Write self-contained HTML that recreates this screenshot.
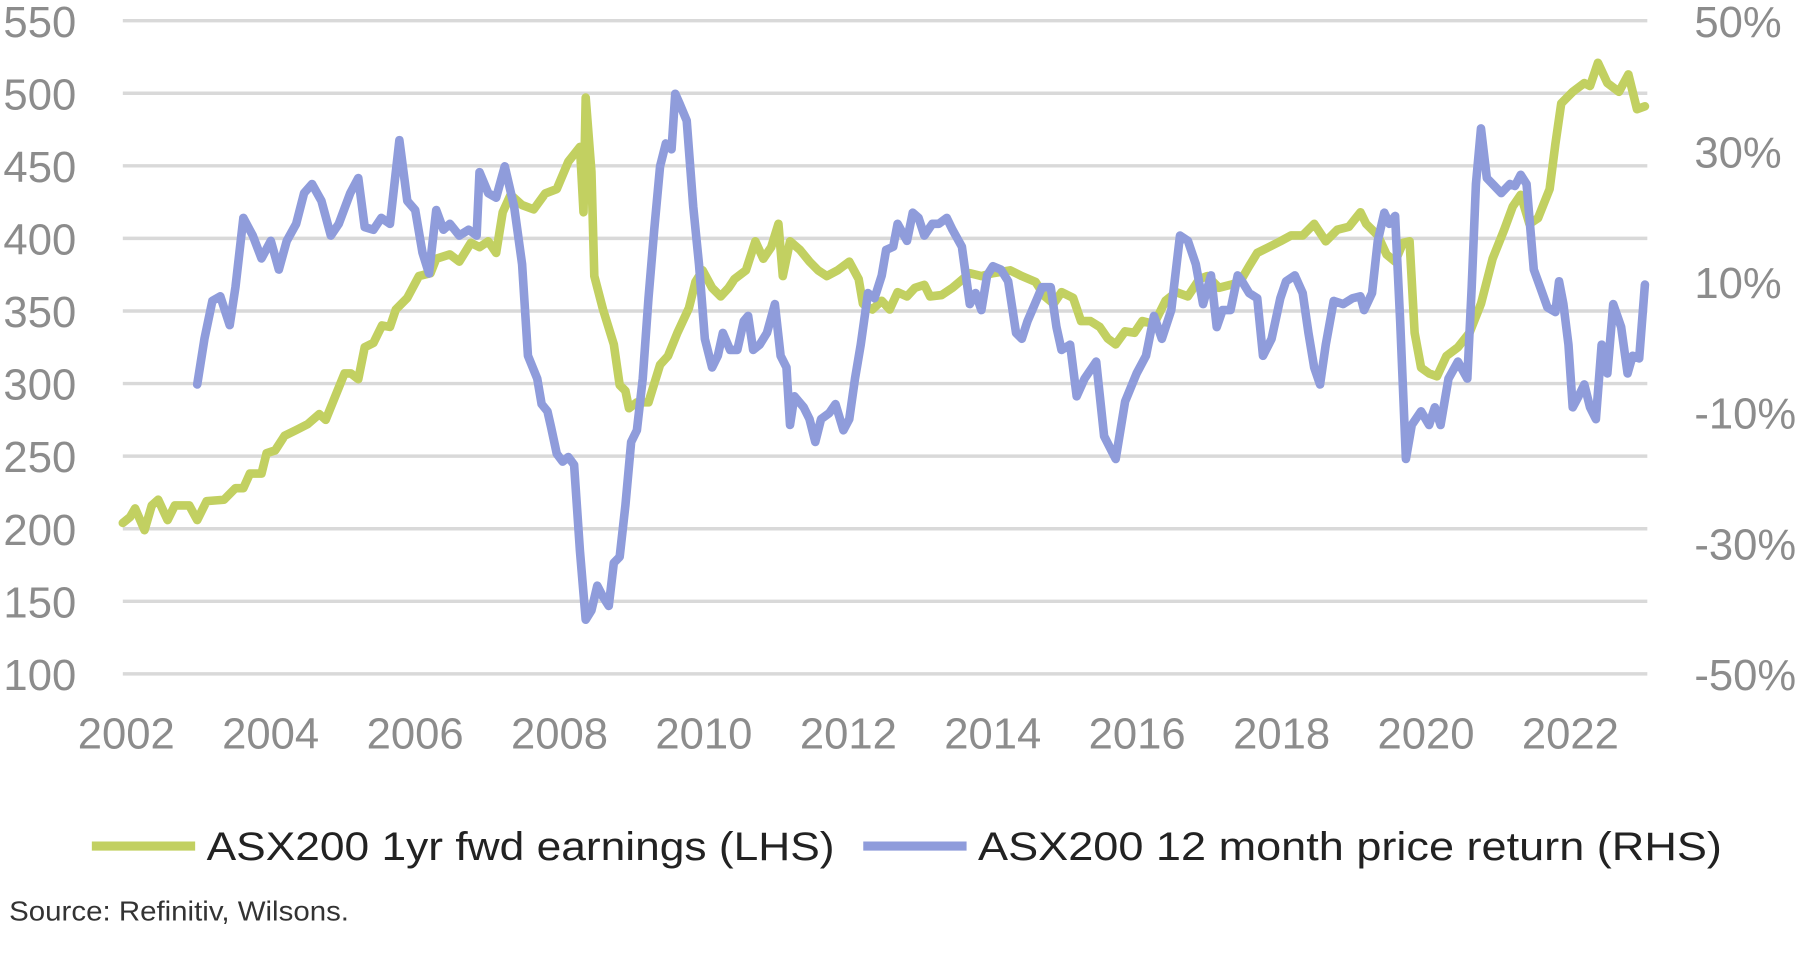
<!DOCTYPE html>
<html><head><meta charset="utf-8">
<style>
html,body{margin:0;padding:0;background:#fff;}
svg{display:block;font-family:"Liberation Sans",sans-serif;}
</style></head>
<body>
<svg id="chart" width="1800" height="954" viewBox="0 0 1568 831" preserveAspectRatio="none" xmlns="http://www.w3.org/2000/svg">
<g id="grid"></g><g id="axes"></g><g id="series"></g>
<g>
 <line x1="80" y1="737" x2="170" y2="737" stroke="#c2d061" stroke-width="8"/>
 <text x="180" y="749" font-size="35" fill="#222" textLength="547" lengthAdjust="spacingAndGlyphs">ASX200 1yr fwd earnings (LHS)</text>
 <line x1="752" y1="737" x2="842" y2="737" stroke="#8f9cdb" stroke-width="8"/>
 <text x="852" y="749" font-size="35" fill="#222" textLength="648" lengthAdjust="spacingAndGlyphs">ASX200 12 month price return (RHS)</text>
</g>
<text x="8" y="802" font-size="24" fill="#333" textLength="296" lengthAdjust="spacingAndGlyphs">Source: Refinitiv, Wilsons.</text>
</svg>
<script>
const xTicks=[2002,2004,2006,2008,2010,2012,2014,2016,2018,2020,2022];
const leftTicks=[100,150,200,250,300,350,400,450,500,550];
const rightTicks=[-50,-30,-10,10,30,50];
const earnYears=[2002.00,2002.10,2002.17,2002.30,2002.40,2002.49,2002.62,2002.72,2002.92,2003.03,2003.16,2003.40,2003.56,2003.67,2003.76,2003.92,2003.99,2004.11,2004.24,2004.40,2004.56,2004.72,2004.81,2004.94,2005.07,2005.16,2005.26,2005.35,2005.47,2005.59,2005.70,2005.78,2005.94,2006.10,2006.26,2006.34,2006.53,2006.66,2006.82,2006.94,2007.06,2007.17,2007.26,2007.37,2007.53,2007.69,2007.85,2008.01,2008.17,2008.33,2008.38,2008.41,2008.49,2008.53,2008.65,2008.80,2008.88,2008.96,2009.01,2009.12,2009.28,2009.44,2009.55,2009.68,2009.84,2009.93,2010.03,2010.16,2010.28,2010.39,2010.47,2010.63,2010.76,2010.87,2010.98,2011.08,2011.14,2011.24,2011.38,2011.51,2011.63,2011.75,2011.90,2012.06,2012.19,2012.25,2012.38,2012.51,2012.62,2012.73,2012.86,2012.97,2013.10,2013.18,2013.34,2013.49,2013.73,2013.89,2014.05,2014.29,2014.45,2014.64,2014.77,2014.89,2015.00,2015.16,2015.27,2015.40,2015.53,2015.64,2015.75,2015.88,2016.01,2016.12,2016.28,2016.44,2016.59,2016.75,2016.91,2017.02,2017.18,2017.34,2017.47,2017.60,2017.71,2017.87,2018.03,2018.18,2018.34,2018.50,2018.66,2018.82,2018.98,2019.14,2019.22,2019.38,2019.50,2019.62,2019.73,2019.82,2019.89,2019.98,2020.09,2020.20,2020.33,2020.49,2020.65,2020.81,2020.97,2021.13,2021.25,2021.36,2021.48,2021.60,2021.76,2021.84,2021.92,2022.08,2022.24,2022.32,2022.43,2022.56,2022.72,2022.85,2022.97,2023.08];
const earnValues=[204,208,214,199,216,220,206,216,216,206,219,220,228,228,238,238,252,254,264,268,272,279,275,291,307,307,303,325,328,340,339,351,359,374,376,386,389,384,397,394,398,390,418,430,423,420,431,434,453,463,418,497,446,374,351,327,299,295,283,287,287,313,319,335,352,370,378,366,360,366,372,378,398,386,394,410,374,398,392,384,378,374,378,384,372,355,351,357,351,363,360,366,368,360,361,366,376,374,376,378,374,370,360,355,363,359,343,343,339,331,327,336,335,343,341,357,363,360,372,374,366,368,370,381,390,394,398,402,402,410,398,406,408,418,410,402,389,384,397,398,335,311,307,305,319,325,335,355,386,406,422,430,410,414,434,465,493,501,507,505,521,507,501,513,489,491];
const retYears=[2003.03,2003.13,2003.24,2003.35,2003.48,2003.56,2003.67,2003.80,2003.92,2004.05,2004.16,2004.27,2004.40,2004.51,2004.62,2004.75,2004.88,2004.99,2005.15,2005.26,2005.35,2005.47,2005.58,2005.70,2005.83,2005.94,2006.05,2006.15,2006.24,2006.34,2006.44,2006.53,2006.66,2006.79,2006.90,2006.94,2007.06,2007.17,2007.29,2007.42,2007.53,2007.61,2007.74,2007.80,2007.88,2007.93,2008.01,2008.09,2008.17,2008.25,2008.33,2008.41,2008.49,2008.57,2008.65,2008.73,2008.80,2008.88,2008.96,2009.04,2009.12,2009.20,2009.28,2009.36,2009.44,2009.52,2009.60,2009.65,2009.71,2009.81,2009.90,2009.98,2010.06,2010.16,2010.24,2010.31,2010.41,2010.51,2010.60,2010.66,2010.73,2010.82,2010.92,2011.03,2011.11,2011.19,2011.24,2011.30,2011.43,2011.51,2011.59,2011.67,2011.78,2011.87,2011.98,2012.06,2012.14,2012.22,2012.32,2012.41,2012.51,2012.57,2012.67,2012.73,2012.86,2012.94,2013.02,2013.10,2013.21,2013.30,2013.41,2013.49,2013.62,2013.73,2013.81,2013.89,2013.97,2014.05,2014.16,2014.26,2014.37,2014.45,2014.53,2014.61,2014.73,2014.85,2014.93,2015.00,2015.12,2015.21,2015.32,2015.48,2015.59,2015.75,2015.88,2016.04,2016.17,2016.28,2016.39,2016.52,2016.64,2016.75,2016.86,2016.96,2017.07,2017.15,2017.23,2017.34,2017.44,2017.50,2017.60,2017.71,2017.79,2017.91,2018.03,2018.11,2018.23,2018.34,2018.42,2018.50,2018.58,2018.66,2018.77,2018.90,2019.03,2019.14,2019.19,2019.30,2019.38,2019.47,2019.54,2019.62,2019.69,2019.77,2019.85,2019.98,2020.09,2020.17,2020.25,2020.36,2020.49,2020.62,2020.68,2020.74,2020.81,2020.89,2020.97,2021.09,2021.21,2021.28,2021.36,2021.44,2021.54,2021.63,2021.73,2021.84,2021.89,2021.95,2022.02,2022.08,2022.16,2022.24,2022.32,2022.40,2022.48,2022.56,2022.64,2022.75,2022.84,2022.91,2023.00,2023.08];
const retValues=[-5.7,1.3,7.1,7.8,3.4,9.2,19.8,17.1,13.6,16.3,11.9,16.3,18.9,23.6,25.0,22.4,17.1,18.9,23.6,25.9,18.4,18.0,19.8,18.9,31.7,22.4,21.0,14.5,11.3,21.0,18.0,18.9,17.1,18.0,17.1,26.8,23.6,22.9,27.7,21.5,12.7,-1.3,-4.8,-8.7,-9.8,-12.2,-16.3,-17.5,-16.8,-18.0,-31.2,-41.7,-40.3,-36.5,-38.2,-39.6,-33.0,-32.1,-24.2,-14.5,-12.7,-4.8,7.5,18.0,27.7,31.2,30.3,38.8,37.3,34.7,21.5,12.7,1.3,-3.1,-1.3,2.2,-0.4,-0.4,4.0,4.8,-0.4,0.4,2.2,6.6,-1.3,-3.1,-11.9,-7.5,-9.2,-11.0,-14.5,-11.0,-10.1,-8.7,-12.7,-11.0,-4.8,0.4,8.3,7.5,11.0,14.9,15.4,18.9,16.3,20.6,19.8,17.1,18.9,18.9,19.8,18.0,15.4,6.6,8.3,5.7,11.0,12.4,11.9,10.1,2.2,1.3,4.0,6.1,9.2,9.2,3.1,-0.4,0.4,-7.5,-4.8,-2.2,-13.6,-17.1,-8.3,-4.0,-1.3,4.8,1.3,5.7,17.1,16.3,12.7,6.6,11.0,3.1,5.7,5.7,11.0,10.1,8.3,7.5,-1.3,1.3,7.5,10.1,11.0,8.3,2.2,-3.1,-5.7,0.4,7.1,6.6,7.5,7.8,5.7,8.3,16.3,20.6,18.9,20.1,4.0,-17.1,-11.9,-9.8,-11.9,-9.2,-11.9,-4.8,-2.2,-4.8,9.2,25.0,33.5,25.9,25.0,23.6,25.0,24.7,26.4,25.0,11.9,9.2,6.1,5.4,10.1,6.6,0.4,-9.2,-7.5,-5.7,-9.2,-11.0,0.4,-4.0,6.6,3.1,-4.0,-1.3,-1.7,9.6];

const NS='http://www.w3.org/2000/svg';
const X0=107,PX=62.9,TOP=18,BOT=587,GX1=107,GX2=1435;
function xS(yr){return X0+(yr-2002)*PX;}
function yL(v){return BOT-(v-100)/450*(BOT-TOP);}
function yR(p){return BOT-(p+50)/100*(BOT-TOP);}
function mk(tag,attrs,parent){const e=document.createElementNS(NS,tag);for(const k in attrs)e.setAttribute(k,attrs[k]);parent.appendChild(e);return e;}
const grid=document.getElementById('grid'),axes=document.getElementById('axes'),ser=document.getElementById('series');
leftTicks.forEach(v=>{
  const l=mk('line',{x1:GX1,x2:GX2,y1:yL(v),y2:yL(v),stroke:'#d9d9d9','stroke-width':3},grid);
  
  
  const t=mk('text',{x:3,y:yL(v)+14,'font-size':38,fill:'#8c8c8c'},axes);
  t.textContent=v;
  
  
});
rightTicks.forEach(p=>{
  const t=mk('text',{x:1476,y:yR(p)+14,'font-size':38,fill:'#8c8c8c'},axes);
  t.textContent=p+'%';
  
  
});
xTicks.forEach(y=>{
  const t=mk('text',{x:xS(y)+3,y:652,'font-size':38,fill:'#8c8c8c','text-anchor':'middle'},axes);
  t.textContent=y;
  
  
});
function line(xs,vs,yf,color,name){
  const d=xs.map((x,i)=>(i?'L':'M')+xS(x).toFixed(1)+','+yf(vs[i]).toFixed(1)).join(' ');
  const p=mk('path',{d:d,fill:'none',stroke:color,'stroke-width':7.5,'stroke-linejoin':'round','stroke-linecap':'round'},ser);
  
  
}
line(earnYears,earnValues,yL,'#c2d061','earnings-line');
line(retYears,retValues,yR,'#8f9cdb','price-return-line');
</script>
</body></html>
